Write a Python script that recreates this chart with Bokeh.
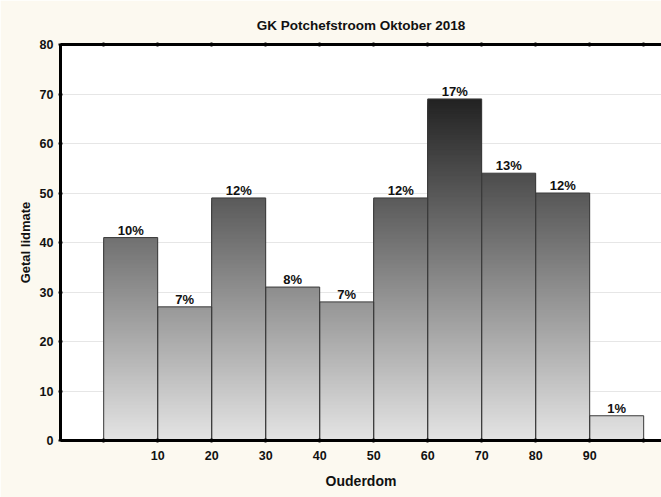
import numpy as np
from bokeh.plotting import figure
from bokeh.models import ColumnDataSource, FixedTicker, LinearAxis, Range1d
from bokeh.core.properties import value
from bokeh.embed import file_html
from bokeh.resources import INLINE

# ---- data ----
bin_left = [0, 10, 20, 30, 40, 50, 60, 70, 80, 90]
bin_right = [10, 20, 30, 40, 50, 60, 70, 80, 90, 100]
counts = [41, 27, 49, 31, 28, 49, 69, 54, 50, 5]
pct_labels = ["10%", "7%", "12%", "8%", "7%", "12%", "17%", "13%", "12%", "1%"]
x_label_ticks = [10, 20, 30, 40, 50, 60, 70, 80, 90]
x_end_ticks = [0, 100]
x_all_ticks = [0, 10, 20, 30, 40, 50, 60, 70, 80, 90, 100]
y_ticks = [0, 10, 20, 30, 40, 50, 60, 70, 80]

title = "GK Potchefstroom Oktober 2018"
x_label = "Ouderdom"
y_label = "Getal lidmate"

FONT = "Liberation Sans"
BG = "#FCF9F0"
TXT = "#111111"

p = figure(width=661, height=497, x_range=Range1d(-8, 103.3), y_range=Range1d(0, 80),
           output_backend="svg", toolbar_location=None,
           min_border_left=60, min_border_right=0, min_border_top=44, min_border_bottom=57)
p.background_fill_color = "white"
p.border_fill_color = BG
p.outline_line_color = None

p.title.text = title
p.title.align = "center"
p.title.text_font = FONT
p.title.text_font_style = "bold"
p.title.text_font_size = "13.5px"
p.title.text_color = TXT
p.title.standoff = 20

# gradient bars: overlapping rectangles from the base, tallest (darkest) first
step = 0.25
L, R, T, C = [], [], [], []
for l, r, c in zip(bin_left, bin_right, counts):
    tops = np.arange(c, 0, -step)
    for t in tops:
        mid = max(t - step / 2, 0)
        g = int(round(228 - (228 - 34) * mid / 69))
        g = max(0, min(255, g))
        L.append(l); R.append(r); T.append(t)
        C.append("#%02x%02x%02x" % (g, g, g))
p.quad(left=L, right=R, bottom=0, top=T, fill_color=C, line_color=None)

src = ColumnDataSource(dict(left=bin_left, right=bin_right, top=counts,
                            xc=[(a + b) / 2 for a, b in zip(bin_left, bin_right)],
                            lab=pct_labels))
p.quad(left="left", right="right", bottom=0, top="top", source=src,
       fill_color=None, line_color="#3a3a3a", line_width=1)
p.text(x="xc", y="top", text="lab", source=src, text_align="center",
       text_baseline="bottom", y_offset=0, text_font=value(FONT),
       text_font_style="bold", text_font_size="13px", text_color=TXT)

# grid
p.xgrid.visible = False
p.ygrid.ticker = FixedTicker(ticks=y_ticks)
p.ygrid.grid_line_color = "#e6e6e6"
p.ygrid.grid_line_width = 1

def style_axis(ax):
    ax.axis_line_width = 3
    ax.axis_line_color = "black"
    ax.major_tick_in = 2
    ax.major_tick_out = 2
    ax.major_tick_line_width = 2
    ax.major_tick_line_color = "black"
    ax.minor_tick_in = 2
    ax.minor_tick_out = 2
    ax.minor_tick_line_width = 2
    ax.minor_tick_line_color = "black"
    ax.major_label_text_font = FONT
    ax.major_label_text_font_style = "bold"
    ax.major_label_text_font_size = "12.5px"
    ax.major_label_text_color = TXT
    ax.axis_label_text_font = FONT
    ax.axis_label_text_font_style = "bold"
    ax.axis_label_text_color = TXT

xa = p.xaxis[0]
style_axis(xa)
xa.ticker = FixedTicker(ticks=x_label_ticks, minor_ticks=x_end_ticks)
xa.axis_label = x_label
xa.axis_label_text_font_size = "14px"
xa.major_label_standoff = 8
xa.axis_label_standoff = 10

ya = p.yaxis[0]
style_axis(ya)
ya.ticker = FixedTicker(ticks=y_ticks)
ya.minor_tick_line_color = None
ya.axis_label = y_label
ya.axis_label_text_font_size = "13px"
ya.major_label_standoff = 5
ya.axis_label_standoff = 4

top_ax = LinearAxis(ticker=FixedTicker(ticks=[], minor_ticks=x_all_ticks))
style_axis(top_ax)
p.add_layout(top_ax, "above")

open("out.html", "w").write(file_html(p, INLINE))
